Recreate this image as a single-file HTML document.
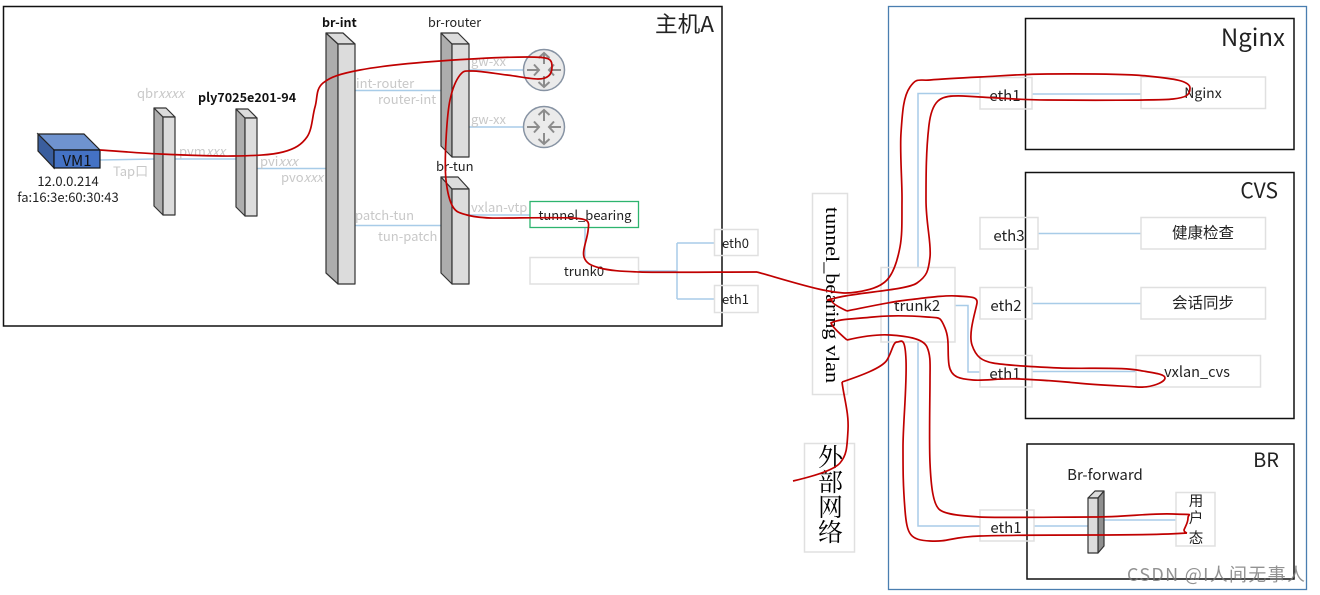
<!DOCTYPE html>
<html><head><meta charset="utf-8"><style>
html,body{margin:0;padding:0;background:#fff}
svg{display:block}
text{font-family:"Noto Sans CJK SC","Liberation Sans",sans-serif;fill:#222}
.g{fill:#c8c8c8;font-size:13px}
.b{fill:none;stroke:#a8cce8;stroke-width:1.5}
.x{fill:#fff;fill-opacity:0;stroke:#e0e0e0;stroke-width:1.5}
.k{fill:none;stroke:#111;stroke-width:1.5}
.l{fill:#adadad;stroke:#333;stroke-width:1.2;stroke-linejoin:round}
.t{fill:#dcdcdc;stroke:#333;stroke-width:1.2;stroke-linejoin:round}
.a{fill:none;stroke:#8c8c8c;stroke-width:2}
.r{fill:none;stroke:#c00000;stroke-width:1.7}
</style></head><body>
<svg width="1320" height="595" viewBox="0 0 1320 595" xmlns="http://www.w3.org/2000/svg">
<rect width="1320" height="595" fill="#fff"/>
<rect class="k" x="3.5" y="6.5" width="718.5" height="319.5"/>
<rect x="888.5" y="6.5" width="418" height="583" fill="none" stroke="#4a7eb0" stroke-width="1.3"/>
<rect class="k" x="1025.5" y="18.5" width="268.5" height="131"/>
<rect class="k" x="1025.5" y="172.5" width="268.5" height="246"/>
<rect class="k" x="1027" y="444" width="267" height="135"/>

<!-- blue connectors -->
<path class="b" d="M100 160L154 159M175 159H236M257 168.500H326M355 90.500H441M355 225.500H441M469 70H523M469 127H523M469 215H530M585 227V257M639 271H677M677 243H714M677 243V299M677 299H714"/>
<path class="b" d="M980 93.500H918V267M918 342V526H980M955 305.500H968V372H980M1032 94H1141M1038 233.500H1141M1032 303.500H1141M1032 371.500H1136M1034 526H1088M1104 520H1176"/>

<!-- boxes -->
<rect x="530" y="201.500" width="108.500" height="26" fill="none" stroke="#2db46e" stroke-width="1.3"/>
<rect class="x" x="530" y="257.500" width="108.500" height="26.500"/>
<rect class="x" x="714.500" y="229.500" width="43.500" height="26"/>
<rect class="x" x="714.500" y="285.500" width="43.500" height="27"/>
<rect class="x" x="812.500" y="193.500" width="35" height="201"/>
<rect class="x" x="804.500" y="443.500" width="50" height="108.500"/>
<rect class="x" x="881" y="267.500" width="74" height="74.500"/>
<rect class="x" x="980" y="77.500" width="52" height="31.500"/>
<rect class="x" x="1141" y="77" width="124.500" height="31.500"/>
<rect class="x" x="980" y="217.500" width="58" height="31.500"/>
<rect class="x" x="1141" y="217.500" width="124.500" height="31.500"/>
<rect class="x" x="980" y="287.500" width="52" height="31.500"/>
<rect class="x" x="1141" y="287.500" width="124.500" height="31.500"/>
<rect class="x" x="980" y="355.500" width="52" height="31.500"/>
<rect class="x" x="1136" y="355.500" width="124.500" height="31.500"/>
<rect class="x" x="980" y="510" width="54" height="31"/>
<rect class="x" x="1176" y="492.500" width="39" height="53.500"/>

<!-- VM -->
<polygon points="38,134 84,134 100,150 54,150" fill="#6f93cf" stroke="#222" stroke-width="1.2"/>
<polygon points="38,134 54,150 54,168 38,151" fill="#3a5e9e" stroke="#222" stroke-width="1.2"/>
<rect x="54" y="150" width="46" height="18" fill="#4472c4" stroke="#111" stroke-width="1.2"/>

<!-- bridges -->
<polygon class="l" points="154,108 163,117 163,215 154,206"/><polygon class="t" points="154,108 166,108 175,117 163,117"/><rect class="t" x="163" y="117" width="12" height="98"/>
<polygon class="l" points="236,109 245,118 245,216 236,207"/><polygon class="t" points="236,109 248,109 257,118 245,118"/><rect class="t" x="245" y="118" width="12" height="98"/>
<polygon class="l" points="326,33 338,44 338,284 326,273"/><polygon class="t" points="326,33 343,33 355,44 338,44"/><rect class="t" x="338" y="44" width="17" height="240"/>
<polygon class="l" points="441,33 452,44 452,157 441,146"/><polygon class="t" points="441,33 458,33 469,44 452,44"/><rect class="t" x="452" y="44" width="17" height="113"/>
<polygon class="l" points="441,177 452,189 452,284 441,273"/><polygon class="t" points="441,177 458,177 469,189 452,189"/><rect class="t" x="452" y="189" width="17" height="95"/>
<polygon class="l" points="1088,498 1095,491 1104,491 1098,498" style="fill:#dcdcdc"/><polygon class="l" points="1098,498 1104,491 1104,546 1098,553" style="fill:#8f8f8f"/><rect class="t" x="1088" y="498" width="10" height="55"/>

<!-- routers -->
<g transform="translate(544,70)">
<circle r="20.500" fill="#ebebeb" stroke="#8793a3" stroke-width="1.5"/>
<path class="a" d="M-17 0H-5M-10 -5.500L-5 0L-10 5.500M17 0H5M10 -5.500L5 0L10 5.500M0 -6V-17M-5.500 -12L0 -17L5.500 -12M0 6V17M-5.500 12L0 17L5.500 12"/>
</g>
<g transform="translate(544,127)">
<circle r="20.500" fill="#ebebeb" stroke="#8793a3" stroke-width="1.5"/>
<path class="a" d="M-17 0H-5M-10 -5.500L-5 0L-10 5.500M17 0H5M10 -5.500L5 0L10 5.500M0 -6V-17M-5.500 -12L0 -17L5.500 -12M0 6V17M-5.500 12L0 17L5.500 12"/>
</g>

<!-- labels -->
<text x="714" y="32" font-size="20" text-anchor="end" textLength="59" lengthAdjust="spacingAndGlyphs" style="font-size:22px">主机A</text>
<text x="1285" y="46" font-size="24" text-anchor="end">Nginx</text>
<text x="1278" y="198" font-size="21" text-anchor="end">CVS</text>
<text x="1279" y="467" font-size="20" text-anchor="end">BR</text>
<text x="77" y="166" font-size="15" text-anchor="middle" style="fill:#111">VM1</text>
<text x="68" y="186" font-size="13" text-anchor="middle">12.0.0.214</text>
<text x="68" y="202" font-size="13" text-anchor="middle">fa:16:3e:60:30:43</text>
<text class="g" x="137" y="98">qbr<tspan font-style="italic">xxxx</tspan></text>
<text x="198" y="102" font-size="12.600" font-weight="700" style="fill:#111">ply7025e201-94</text>
<text x="322" y="27" font-size="12.500" font-weight="700" style="fill:#111">br-int</text>
<text x="428" y="27" font-size="12.600">br-router</text>
<text x="436" y="171" font-size="13">br-tun</text>
<text class="g" x="113" y="176">Tap口</text>
<text class="g" x="179" y="156">pvm<tspan font-style="italic">xxx</tspan></text>
<text class="g" x="260" y="166">pvi<tspan font-style="italic">xxx</tspan></text>
<text class="g" x="281" y="182">pvo<tspan font-style="italic">xxx</tspan></text>
<text class="g" x="356" y="88">int-router</text>
<text class="g" x="378" y="104">router-int</text>
<text class="g" x="355" y="220">patch-tun</text>
<text class="g" x="378" y="241">tun-patch</text>
<text class="g" x="471" y="66">gw-xx</text>
<text class="g" x="471" y="124">gw-xx</text>
<text class="g" x="471" y="212">vxlan-vtp</text>
<text x="585" y="220" font-size="13" text-anchor="middle">tunnel_bearing</text>
<text x="584" y="276" font-size="13" text-anchor="middle">trunk0</text>
<text x="735.500" y="248" font-size="13" text-anchor="middle">eth0</text>
<text x="735.500" y="304" font-size="13" text-anchor="middle">eth1</text>
<text transform="translate(826,207) rotate(90)" font-size="19" textLength="176" lengthAdjust="spacingAndGlyphs" style="font-family:'Liberation Serif',serif;fill:#000">tunnel_bearing vlan</text>
<g font-size="25" text-anchor="middle">
<text x="830.500" y="466" style="font-family:'Noto Serif CJK SC',serif;fill:#000">外</text>
<text x="830.500" y="491" style="font-family:'Noto Serif CJK SC',serif;fill:#000">部</text>
<text x="830.500" y="516" style="font-family:'Noto Serif CJK SC',serif;fill:#000">网</text>
<text x="830.500" y="541" style="font-family:'Noto Serif CJK SC',serif;fill:#000">络</text>
</g>
<text x="917" y="311" font-size="15" text-anchor="middle">trunk2</text>
<text x="1005" y="101" font-size="15" text-anchor="middle">eth1</text>
<text x="1203" y="98" font-size="14" text-anchor="middle">Nginx</text>
<text x="1009" y="241" font-size="15" text-anchor="middle">eth3</text>
<text x="1203" y="238" font-size="15.500" text-anchor="middle">健康检查</text>
<text x="1006" y="311" font-size="15" text-anchor="middle">eth2</text>
<text x="1203" y="308" font-size="15.500" text-anchor="middle">会话同步</text>
<text x="1005" y="379" font-size="15" text-anchor="middle">eth1</text>
<text x="1197" y="377" font-size="14.500" text-anchor="middle">vxlan_cvs</text>
<text x="1006" y="533" font-size="15" text-anchor="middle">eth1</text>
<text x="1105" y="480" font-size="15" text-anchor="middle">Br-forward</text>
<text x="1196" y="506" font-size="14.500" text-anchor="middle">用</text>
<text x="1196" y="523" font-size="14.500" text-anchor="middle">户</text>
<text x="1196" y="543" font-size="14.500" text-anchor="middle">态</text>

<!-- red trace -->
<path class="r" d="M100 150C120 151.300 138 153 160 154S212.500 156.300 233 156S270.700 155.200 283 152S301.700 144.500 307 137S312.300 116 315 107S315.500 89.200 323 83S340.500 73.700 360 70S412 63 440 61S505 57 527 57S552 58 552 67S546 79 538 79S518 76.300 507 75S481 71 473 71S463.800 70.200 460 75S452.300 89.200 450 100S446.700 126.700 446 140S444.800 168.800 446 180S449.500 201.200 453 207S460.800 213.200 467 215S480 217.500 490 218S555 217 573 218S589 222 588 231S582 250.700 584 257S590.700 265.500 600 268S620 271.300 640 272S720 272 757 272"/>
<path class="r" d="M757 272C775 277 806 286.700 823 290S846.300 293.700 857 292S880 287.500 887 280S897.500 260.300 900 247S901.800 219 902 200S899.700 151.800 901 133S903 97 910 87S919 81 930 80S959.300 78 980 77S1019 74.200 1047 74S1125 73.700 1147 76S1190 80 1190 88S1185 97.500 1173 99S1079 100.300 1047 100S995.700 97.700 980 97S965 95.500 953 96S932 100 929 125S926 176 926 200S931.500 243.200 930 257S927 276 917 283S862 292 840 297S832 299 832 301Q832 304 847 311"/>
<path class="r" d="M847 311C867 307 889 302 907 300S945 295 957 296S978 296 977 303S968 333 972 345S982 361 993 363S1038 367 1060 368S1120 367 1137 370S1165 374 1165 378S1152 388 1137 387S1097 385 1077 383S1040 380 1020 379S985 381 973 380S951 378 949 365S950 340 945 328S940 318 927 317S893 315 873 317S838 319 831 323Q832 327 847 340"/>
<path class="r" d="M847 340C860 337 875 334 890 335S923 338 927 347S930 365 930 380S929 440 930 463S933 505 940 510S965 516 980 517S1060 517 1093 517S1150 513 1173 514S1188 513 1188 518S1185 527 1184 530Q1184 532 1187 533"/>
<path class="r" d="M1187 533C1160 535 1125 535 1093 535S1010 535 980 536S950 542 930 541S907 535 905 510S903 470 903 447S907 385 906 360S901 342 897 342S892 352 887 360S860 376 842 382"/>
<path class="r" d="M842 382C844 398 849 413 848 430S847 455 840 463S810 477 793 481"/>

<!-- watermark -->
<text x="1127" y="581" font-size="18" textLength="178" style="fill:#777;fill-opacity:.8">CSDN @I人间无事人</text>
</svg>
</body></html>
